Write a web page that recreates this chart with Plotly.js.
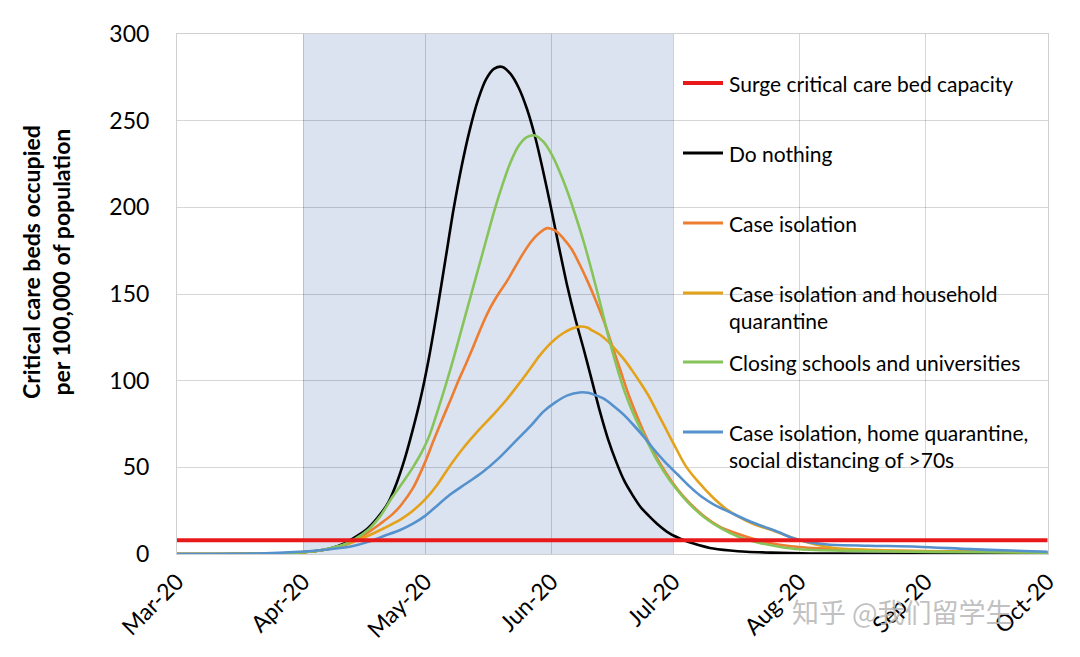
<!DOCTYPE html>
<html>
<head>
<meta charset="utf-8">
<script src="https://cdn.plot.ly/plotly-3.0.1.min.js"></script>
<style>html,body{margin:0;padding:0;background:#fff;}#chart{width:1080px;height:657px;}</style>
</head>
<body>
<div id="chart"></div>
<script>
// ---------- DATA ----------
// x values are days since 1 March 2020
const startDate = '2020-03-01';

const seriesNames = [
  'Surge critical care bed capacity',
  'Do nothing',
  'Case isolation',
  'Case isolation and household<br>quarantine',
  'Closing schools and universities',
  'Case isolation, home quarantine,<br>social distancing of >70s'
];

const capacityDays = [0, 214];
const capacityVals = [8, 8];

const doNothingDays = [0,25,31,35,38,41,44,47,50,52,54,56,58,60,62,64,66,68,70,72,74,76,78,80,82,84,86,88,90,92,94,96,98,100,102,104,106,108,110,112,114,116,118,121,124,127,131,136,140,146,160,214];
const doNothingVals = [0,0.3,1,2,3.5,6,10,15,23,30,41,55,72,91,114,141,170,199,224,245,262,274,280,281,277,269,257,241,221,199,176,154,135,118,100,82,66,53,42,34,27,22,17.5,12,8.5,6,3.5,2,1.3,0.8,0.2,0];

const caseIsoDays = [0,25,31,35,38,41,44,47,50,53,55,58,61,63,65,67,69,71,73,75,77,79,81,83,85,87,89,91,93,95,97,99,101,103,105,107,109,111,113,115,117,120,123,126,130,134,140,146,153,165,185,214];
const caseIsoVals = [0,0.3,1,2,3.2,5,8,12.5,17.5,23,28,38,53,65,76.5,87.5,99,109.5,120.5,132,142,150,157,165,173,180,185,188,186.5,182,176,167,157,146,134,120,106,92,80,69,59.5,47.5,37.5,29.5,21,15,10,6.2,4,2.5,1.5,1];

const householdDays = [0,25,31,35,38,41,44,47,51,55,58,61,64,67,70,74,78,81,84,87,89,91,93,95,97,99,101,102,104,106,108,110,112,114,116,118,120,122,125,128,132,135,138,142,146,150,153,157,162,175,195,214];
const householdVals = [0,0.3,1,2,3.2,5,7.5,10.5,15,20,25,31.5,40,50.5,60,71,81,89,98,107.5,114,119.5,124,127.5,130,131.2,130.5,129,126.5,122.5,117.5,112,105.5,98.5,91,82,73,64,51,42,32,26,21.6,17,14,10.5,8,5.5,3.3,2,1.5,1];

const schoolsDays = [0,25,31,35,38,41,44,47,50,53,56,58,60,62,64,66,68,70,72,74,76,78,80,82,84,86,88,90,92,94,96,98,100,102,104,106,108,110,112,114,116,118,121,124,127,130,134,138,143,148,153,165,185,214];
const schoolsVals = [0,0.3,1,2,3.5,5.5,9,14,22,33,43,50,58,68,82,97,113,130,147,164,181,198,213,226,235.5,240.5,241.5,238,231,221,209,195,180,163,145,126,109,94,82,72,63,54,43,34,26.5,20.5,14.5,10,6.5,4.2,2.7,1.8,1.2,0.8];

const distancingDays = [0,20,30,35,39,43,47,51,55,58,61,64,67,71,75,79,83,87,90,93,96,99,101,103,105,107,110,112,115,117,120,123,126,129,132,136,140,144,148,151,155,160,170,182,195,205,214];
const distancingVals = [0,0.3,1.3,2.2,3.2,4.5,7,10.5,14,17.5,22,28,34,40.5,47,55,64.5,74,82,87.5,91.5,93.2,93,91.5,89.5,86,80,75,67,61,53,46,39,33,28.5,24,19.6,16,12.5,9.5,7,5.5,4.8,4.2,2.8,2,1.3];

const tickDates  = ['2020-03-01','2020-04-01','2020-05-01','2020-06-01','2020-07-01','2020-08-01','2020-09-01','2020-10-01'];
const tickLabels = ['Mar-20','Apr-20','May-20','Jun-20','Jul-20','Aug-20','Sep-20','Oct-20'];
const shadedPeriod = ['2020-04-01','2020-07-01'];

const yTitleLines = ['Critical care beds occupied', 'per 100,000 of population'];
const watermark = '知乎 @我们留学生';

// ---------- HELPERS ----------
const t0 = Date.UTC(2020, 2, 1);
function toDates(days) {
  return days.map(d => new Date(t0 + d * 86400000).toISOString().slice(0, 10));
}

// ---------- LAYOUT GEOMETRY ----------
const W = 1080, H = 657;
const M = {l: 177, r: 32, t: 34, b: 103};
const PW = W - M.l - M.r, PH = H - M.t - M.b;
const px = X => (X - M.l) / PW;
const py = Y => (H - M.b - Y) / PH;

const colors = ['#E8191A', '#000000', '#ED7D31', '#E3A21A', '#86C45A', '#5591CC'];
const FONT = 'Lato, "Open Sans", sans-serif';

const curveSets = [
  [doNothingDays, doNothingVals],
  [caseIsoDays, caseIsoVals],
  [householdDays, householdVals],
  [schoolsDays, schoolsVals],
  [distancingDays, distancingVals]
];

const traces = [];
curveSets.forEach((s, i) => {
  traces.push({
    type: 'scatter', mode: 'lines',
    x: toDates(s[0]), y: s[1],
    name: seriesNames[i + 1],
    line: {color: colors[i + 1], width: 2.6, shape: 'spline', smoothing: 0.8},
    showlegend: false, hoverinfo: 'skip'
  });
});
traces.push({
  type: 'scatter', mode: 'lines',
  x: toDates(capacityDays), y: capacityVals,
  name: seriesNames[0],
  line: {color: colors[0], width: 4},
  showlegend: false, hoverinfo: 'skip'
});

// legend (drawn with shapes + annotations to match the original spacing)
const legendRows = [83, 153, 223, 293, 362, 432];
const legendTwoLine = [false, false, false, true, false, true];
const shapes = [{
  type: 'rect', xref: 'x', yref: 'paper',
  x0: shadedPeriod[0], x1: shadedPeriod[1], y0: 0, y1: 1,
  fillcolor: '#DCE3F0', line: {width: 0}, layer: 'below'
}];
const annotations = [];
seriesNames.forEach((name, i) => {
  const yy = legendRows[i];
  shapes.push({
    type: 'line', xref: 'paper', yref: 'paper',
    x0: px(683), x1: px(723), y0: py(yy), y1: py(yy),
    line: {color: colors[i], width: i === 0 ? 4 : 3}
  });
  annotations.push({
    xref: 'paper', yref: 'paper',
    x: px(727), y: py(legendTwoLine[i] ? yy + 14 : yy),
    xanchor: 'left', yanchor: 'middle', align: 'left',
    text: name, showarrow: false,
    font: {family: FONT, size: 21, color: '#000'}
  });
});
annotations.push({
  xref: 'paper', yref: 'paper', x: px(46), y: py(262),
  xanchor: 'center', yanchor: 'middle', textangle: -90,
  text: '<b>' + yTitleLines[0] + '</b><br><b>' + yTitleLines[1] + '</b>',
  showarrow: false, font: {family: FONT, size: 23, color: '#000'}
});
annotations.push({
  xref: 'paper', yref: 'paper', x: px(790), y: py(611),
  xanchor: 'left', yanchor: 'middle',
  text: watermark, showarrow: false,
  font: {family: '"Noto Sans CJK SC", sans-serif', size: 27, color: 'rgba(185,185,185,0.9)'}
});

const gridCol = 'rgba(0,0,0,0.16)';
const layout = {
  width: W, height: H,
  margin: M,
  paper_bgcolor: '#fff', plot_bgcolor: 'rgba(0,0,0,0)',
  showlegend: false,
  xaxis: {
    type: 'date',
    range: ['2020-03-01', '2020-10-01 03:00'],
    tickmode: 'array', tickvals: tickDates, ticktext: tickLabels,
    tickangle: -45, tickfont: {family: FONT, size: 23, color: '#000'},
    showgrid: true, gridcolor: gridCol, gridwidth: 1,
    showline: true, linecolor: '#D0D0D0', linewidth: 1, mirror: true,
    zeroline: false, ticks: '', ticklabelstandoff: 4
  },
  yaxis: {
    range: [0, 300], dtick: 50, tick0: 0,
    tickfont: {family: FONT, size: 23, color: '#000'},
    showgrid: true, gridcolor: gridCol, gridwidth: 1,
    showline: true, linecolor: '#D0D0D0', linewidth: 1, mirror: true,
    zeroline: false, ticks: '', ticklabelstandoff: 22
  },
  shapes: shapes,
  annotations: annotations
};

Plotly.newPlot('chart', traces, layout, {staticPlot: true, displayModeBar: false});
</script>
</body>
</html>
